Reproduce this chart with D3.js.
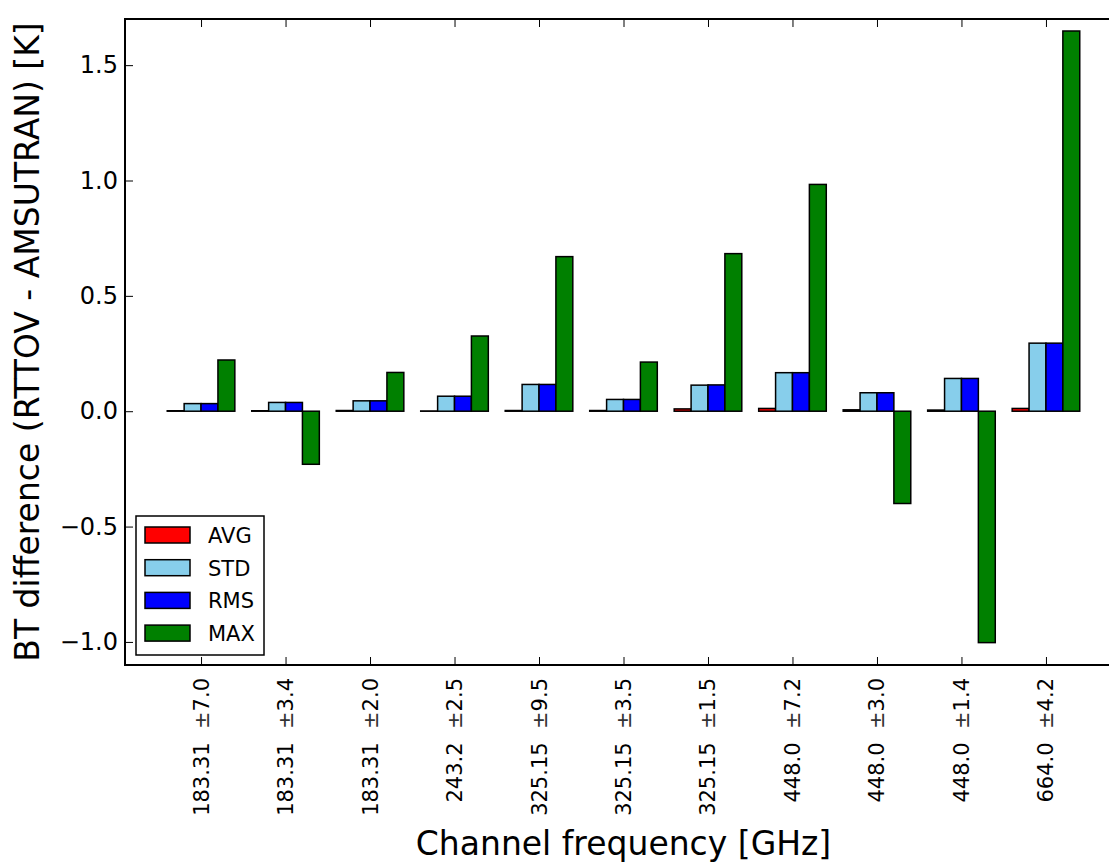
<!DOCTYPE html>
<html>
<head>
<meta charset="utf-8">
<script src="https://cdn.jsdelivr.net/npm/d3@7"></script>
<style>
  html, body { margin: 0; padding: 0; background: #fff; }
  svg { display: block; }
  text { font-family: "DejaVu Sans", sans-serif; fill: #000; }
</style>
</head>
<body>
<svg id="chart" width="1109" height="862"></svg>
<script>
// Channels (centre frequency and sideband offset, GHz)
const channels = ["183.31", "183.31", "183.31", "243.2", "325.15", "325.15", "325.15", "448.0", "448.0", "448.0", "664.0"];
const offsets  = ["7.0", "3.4", "2.0", "2.5", "9.5", "3.5", "1.5", "7.2", "3.0", "1.4", "4.2"];

// BT difference statistics per channel [K]
const avgValues = [0.002, 0.002, 0.003, 0.001, 0.003, 0.003, 0.010, 0.012, 0.006, 0.005, 0.012];
const stdValues = [0.033, 0.038, 0.045, 0.065, 0.116, 0.051, 0.113, 0.167, 0.080, 0.142, 0.295];
const rmsValues = [0.033, 0.038, 0.045, 0.065, 0.116, 0.051, 0.114, 0.167, 0.080, 0.142, 0.295];
const maxValues = [0.222, -0.230, 0.168, 0.326, 0.670, 0.213, 0.683, 0.983, -0.400, -1.003, 1.648];

const seriesNames  = ["AVG", "STD", "RMS", "MAX"];
const seriesColors = ["#ff0000", "#87ceeb", "#0000ff", "#008000"];
const seriesValues = [avgValues, stdValues, rmsValues, maxValues];

const yTicks = [-1.0, -0.5, 0.0, 0.5, 1.0, 1.5];

const svg = d3.select("#chart");
const mLeft = 125, mRight = 1122, mTop = 19, mBottom = 665;
const barWidth = 0.2;

const x = d3.scaleLinear().domain([-0.9, 10.9]).range([mLeft, mRight]);
const y = d3.scaleLinear().domain([-1.1, 1.7]).range([mBottom, mTop]);

const plot = svg.append("g");

// bars
seriesValues.forEach((vals, j) => {
  plot.append("g").selectAll("rect")
    .data(vals)
    .join("rect")
    .attr("x", (d, i) => x(i - 0.4 + barWidth * j))
    .attr("width", (d, i) => x(i - 0.4 + barWidth * (j + 1)) - x(i - 0.4 + barWidth * j))
    .attr("y", d => y(Math.max(0, d)))
    .attr("height", d => Math.abs(y(d) - y(0)))
    .attr("fill", seriesColors[j])
    .attr("stroke", "#000")
    .attr("stroke-width", 1.5);
});

// axes (ticks pointing inward on all sides)
const fmt = d => (d < 0 ? "\u2212" : "") + Math.abs(d).toFixed(1);
const yAxis = d3.axisLeft(y).tickValues(yTicks).tickFormat(fmt).tickSizeInner(-8).tickSizeOuter(0).tickPadding(7);
const gy = svg.append("g").attr("transform", `translate(${mLeft},0)`).call(yAxis);
gy.selectAll("text").style("font-size", "24px");
svg.append("g").attr("transform", `translate(${mRight},0)`)
  .call(d3.axisRight(y).tickValues(yTicks).tickSizeInner(-8).tickSizeOuter(0).tickFormat(""));

const idx = d3.range(channels.length);
const xAxis = d3.axisBottom(x).tickValues(idx).tickSizeInner(-8).tickSizeOuter(0).tickFormat("");
const gx = svg.append("g").attr("transform", `translate(0,${mBottom})`).call(xAxis);
svg.append("g").attr("transform", `translate(0,${mTop})`)
  .call(d3.axisTop(x).tickValues(idx).tickSizeInner(-8).tickSizeOuter(0).tickFormat(""));

svg.selectAll(".domain").remove();
svg.selectAll(".tick line").attr("stroke", "#000").attr("stroke-width", 1);

// rotated channel labels
const lbl = gx.selectAll(".tick").append("text")
  .attr("transform", "translate(7,13) rotate(-90)")
  .attr("text-anchor", "end")
  .attr("xml:space", "preserve")
  .style("font-size", "21px");
lbl.append("tspan").text(i => channels[i] + "  ");
lbl.append("tspan").attr("fill", "#333").text("\u00b1");
lbl.append("tspan").text(i => offsets[i]);

// frame
svg.append("rect")
  .attr("x", mLeft).attr("y", mTop)
  .attr("width", mRight - mLeft).attr("height", mBottom - mTop)
  .attr("fill", "none").attr("stroke", "#000").attr("stroke-width", 2);

// axis titles
svg.append("text")
  .attr("x", (mLeft + mRight) / 2).attr("y", 855)
  .attr("text-anchor", "middle")
  .style("font-size", "33px")
  .text("Channel frequency [GHz]");
svg.append("text")
  .attr("transform", `translate(39,${(mTop + mBottom) / 2}) rotate(-90)`)
  .attr("text-anchor", "middle")
  .style("font-size", "33px")
  .text("BT difference (RTTOV - AMSUTRAN) [K]");

// legend
const lg = svg.append("g").attr("transform", "translate(136,516)");
lg.append("rect").attr("width", 128).attr("height", 139)
  .attr("fill", "#fff").attr("stroke", "#000").attr("stroke-width", 1.5);
seriesNames.forEach((name, j) => {
  const cy = 19 + j * 32.7;
  lg.append("rect").attr("x", 9).attr("y", cy - 8).attr("width", 45).attr("height", 16)
    .attr("fill", seriesColors[j]).attr("stroke", "#000").attr("stroke-width", 1.5);
  lg.append("text").attr("x", 72).attr("y", cy + 8).style("font-size", "21px").text(name);
});
</script>
</body>
</html>
